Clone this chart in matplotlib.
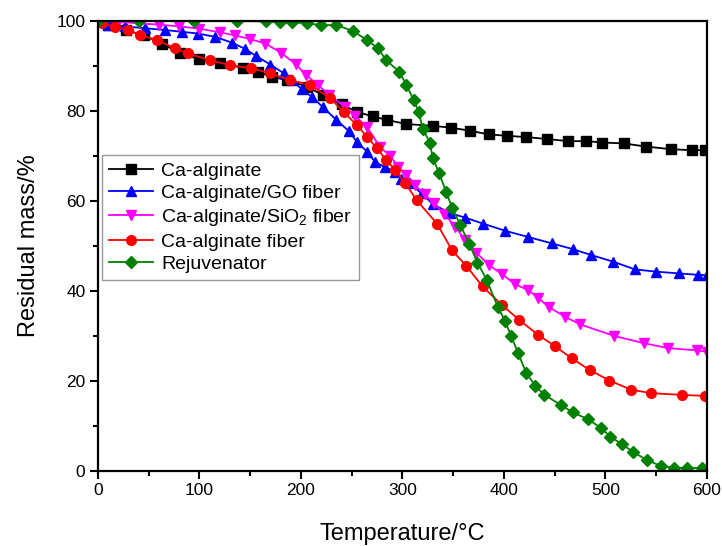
import matplotlib
matplotlib.use("Agg")
import matplotlib.pyplot as plt
from matplotlib.ticker import MultipleLocator

plt.rcParams['font.family'] = ['Liberation Sans', 'DejaVu Sans']

# Ca-alginate
t_alg = [0, 10, 28, 45, 63, 81, 100, 120, 143, 158, 171, 186, 206, 222, 240, 255, 271, 285, 304,
         330, 348, 367, 385, 403, 422, 442, 463, 481, 497, 518, 540, 565, 585, 598]
m_alg = [100, 99.1, 98, 96.8, 95, 92.8, 91.5, 90.6, 89.6, 88.7, 87.6, 86.9, 85.4, 83.5, 81.5, 79.8, 78.8, 78, 77.1,
         76.7, 76.3, 75.6, 74.8, 74.5, 74.2, 73.8, 73.3, 73.3, 73, 72.8, 72.1, 71.5, 71.3, 71.3]

# Ca-alginate/GO fiber
t_go = [0, 10, 27, 46, 66, 83, 99, 115, 132, 145, 156, 170, 183, 191, 201, 211, 222, 235, 247, 255, 265,
        273, 283, 293, 299, 307, 319, 330, 347, 362, 379, 401, 424, 447, 468, 486, 508, 529, 550, 573, 591, 600]
m_go = [100, 99.2, 98.8, 98.4, 98, 97.6, 97.2, 96.5, 95.2, 93.8, 92.2, 90.3, 88.4, 86.9, 84.8, 83.1, 80.8, 78, 75.6, 73.2, 71,
        68.7, 67.5, 66.5, 65, 63.9, 61.7, 59.3, 57.3, 56.3, 55, 53.4, 52, 50.6, 49.3, 48, 46.5, 44.8, 44.3, 43.9, 43.6, 43.5]

# Ca-alginate/SiO2 fiber
t_si = [0, 20, 40, 60, 80, 100, 120, 135, 150, 165, 180, 195, 205, 217, 228, 243, 253, 265, 278, 288, 296,
        304, 312, 322, 331, 341, 352, 362, 373, 385, 398, 411, 424, 434, 444, 460, 475, 509, 538, 562, 590, 600]
m_si = [100, 99.8, 99.5, 99.2, 98.8, 98.3, 97.5, 96.8, 96, 95, 93, 90.4, 88, 85.8, 83.5, 81, 79, 76.5, 72, 70, 67.6,
        65.8, 63.6, 61.5, 59.5, 57.2, 54.3, 51.3, 48.5, 45.8, 43.8, 41.5, 40.2, 38.4, 36.5, 34.3, 32.6, 30, 28.4, 27.3, 26.8, 26.5]

# Ca-alginate fiber
t_fib = [0, 4, 17, 30, 41, 58, 76, 89, 110, 130, 151, 170, 189, 209, 229, 242, 255, 265, 275, 284, 293,
         303, 314, 334, 349, 363, 379, 398, 415, 434, 450, 467, 485, 504, 525, 545, 576, 598]
m_fib = [100, 99.5, 98.7, 98, 96.9, 95.8, 93.9, 92.8, 91.3, 90.2, 89.5, 88.4, 86.9, 85.8, 82.8, 79.8, 76.9, 74.3, 71.7, 69.1, 66.9,
         63.9, 60.2, 55, 49, 45.6, 41, 36.9, 33.6, 30.2, 27.8, 25, 22.4, 20.1, 18.1, 17.3, 16.9, 16.7]

# Rejuvenator
t_rej = [0, 40, 95, 137, 166, 179, 191, 206, 220, 235, 251, 265, 276, 284, 297, 304, 311, 316, 320, 327, 330,
         336, 343, 349, 357, 366, 374, 383, 394, 401, 407, 414, 422, 431, 440, 456, 468, 483, 496, 505, 516,
         527, 541, 555, 568, 580, 595]
m_rej = [100, 100, 100, 100, 99.9, 99.7, 99.7, 99.5, 99.1, 99.1, 97.8, 95.8, 93.9, 91.3, 88.7, 85.8, 82.5, 79.8, 76.1, 73, 69.5,
         66.3, 62.1, 58.5, 54.7, 50.4, 46.3, 42.5, 36.5, 33.4, 30.1, 26.2, 21.8, 18.9, 16.9, 14.7, 13, 11.5, 9.5, 7.6, 6,
         4.3, 2.4, 1.1, 0.7, 0.7, 0.6]

series = [
    (t_alg, m_alg, 'Ca-alginate', 'black', 's'),
    (t_go, m_go, 'Ca-alginate/GO fiber', '#0000ff', '^'),
    (t_si, m_si, r'Ca-alginate/SiO$_\mathregular{2}$ fiber', '#ff00ff', 'v'),
    (t_fib, m_fib, 'Ca-alginate fiber', '#ff0000', 'o'),
    (t_rej, m_rej, 'Rejuvenator', '#008000', 'D'),
]

fig = plt.figure(figsize=(7.22, 5.46), dpi=100)
ax = fig.add_axes([0.1357, 0.1374, 0.8433, 0.8241])

for t, m, lab, c, mk in series:
    ms = 6.0 if mk == 'D' else 7.0
    ax.plot(t, m, color=c, marker=mk, markersize=ms, markeredgecolor=c, markerfacecolor=c,
            linewidth=1.3, label=lab)

ax.set_xlim(0, 600)
ax.set_ylim(0, 100)
ax.xaxis.set_major_locator(MultipleLocator(100))
ax.xaxis.set_minor_locator(MultipleLocator(50))
ax.yaxis.set_major_locator(MultipleLocator(20))
ax.yaxis.set_minor_locator(MultipleLocator(10))
ax.tick_params(which='major', direction='out', length=6, width=1.5, labelsize=12.5, pad=3)
ax.tick_params(which='minor', direction='out', length=3.5, width=1.5)
for s in ax.spines.values():
    s.set_linewidth(1.6)

ax.set_xlabel('Temperature/°C', fontsize=17, labelpad=18)
ax.set_ylabel('Residual mass/%', fontsize=17, labelpad=12)

leg = ax.legend(loc='upper left', bbox_to_anchor=(0.0, 0.71), fontsize=14, frameon=True,
                fancybox=False, edgecolor='#808080', handlelength=2.3, handletextpad=0.4,
                labelspacing=0.25, borderpad=0.35, borderaxespad=0.2)
leg.get_frame().set_linewidth(1.0)

fig.savefig('out.png', dpi=100)
